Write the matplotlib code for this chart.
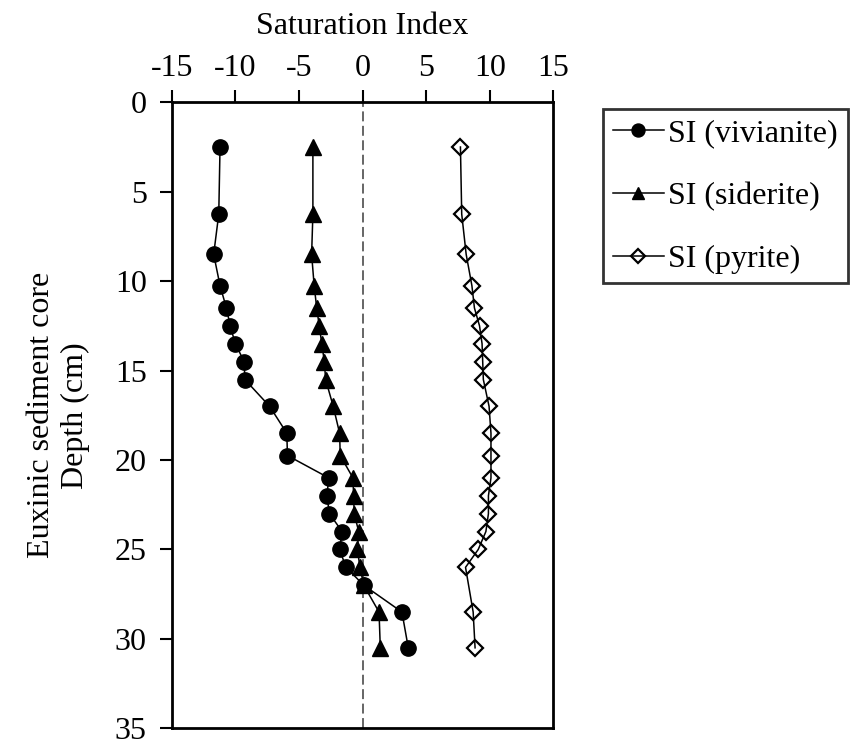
import matplotlib
matplotlib.use("Agg")
import numpy as np
import matplotlib.pyplot as plt

# ----------------------------
# Data
# ----------------------------
depth = [2.5, 6.25, 8.5, 10.25, 11.5, 12.5, 13.5, 14.5, 15.5, 17.0, 18.5,
         19.75, 21.0, 22.0, 23.0, 24.0, 25.0, 26.0, 27.0, 28.5, 30.5]

si_vivianite = [-11.2, -11.3, -11.7, -11.2, -10.7, -10.4, -10.0, -9.3, -9.25,
                -7.3, -5.95, -5.9, -2.65, -2.8, -2.6, -1.6, -1.8, -1.3, 0.1,
                3.1, 3.6]

si_siderite = [-3.9, -3.9, -4.0, -3.8, -3.6, -3.4, -3.2, -3.0, -2.9, -2.3,
               -1.8, -1.75, -0.75, -0.7, -0.65, -0.3, -0.4, -0.2, 0.1, 1.3,
               1.4]

# pyrite has no value at 27 cm
depth_pyrite = [2.5, 6.25, 8.5, 10.25, 11.5, 12.5, 13.5, 14.5, 15.5, 17.0,
                18.5, 19.75, 21.0, 22.0, 23.0, 24.0, 25.0, 26.0, 28.5, 30.5]

si_pyrite = [7.7, 7.8, 8.15, 8.6, 8.8, 9.2, 9.4, 9.45, 9.5, 9.95, 10.1, 10.1,
             10.1, 9.9, 9.9, 9.7, 9.1, 8.1, 8.7, 8.85]

x_ticks = [-15, -10, -5, 0, 5, 10, 15]
y_ticks = [0, 5, 10, 15, 20, 25, 30, 35]

# ----------------------------
# Style
# ----------------------------
plt.rcParams["font.family"] = ["Liberation Serif", "DejaVu Serif"]
plt.rcParams["font.size"] = 23
plt.rcParams["axes.unicode_minus"] = False

fig = plt.figure(figsize=(8.52, 7.47), dpi=100)
ax = fig.add_axes([171.7 / 852, 1 - 728.3 / 747,
                   (553.3 - 171.7) / 852, (728.3 - 102.3) / 747])

# ----------------------------
# Plot
# ----------------------------
ax.axvline(0, color="#595959", linestyle=(0, (5.5, 2.5)), linewidth=1.3,
           zorder=1)

ax.plot(si_vivianite, depth, color="black", linewidth=1.1, marker="o",
        markersize=11, markerfacecolor="black", label="SI (vivianite)", zorder=3)
ax.plot(si_siderite, depth, color="black", linewidth=1.1, marker="^",
        markersize=11, markerfacecolor="black", label="SI (siderite)", zorder=3)
ax.plot(si_pyrite, depth_pyrite, color="black", linewidth=1.1, marker="D",
        markersize=7.8, markerfacecolor="none", markeredgewidth=1.6,
        label="SI (pyrite)", zorder=3)

ax.set_xlim(-15, 15)
ax.set_ylim(35, 0)
ax.set_xticks(x_ticks)
ax.set_yticks(y_ticks)

ax.xaxis.tick_top()
ax.xaxis.set_label_position("top")
ax.set_xlabel("Saturation Index", labelpad=14)
ax.set_ylabel("Euxinic sediment core\nDepth (cm)")
ax.yaxis.set_label_coords(-0.215, 0.5)

for spine in ax.spines.values():
    spine.set_linewidth(2)
ax.tick_params(axis="both", direction="out", length=9, width=1.5)
ax.tick_params(axis="x", pad=5)
ax.tick_params(axis="y", pad=9)

leg = fig.legend(loc="upper left", bbox_to_anchor=(603 / 852, 1 - 109 / 747),
                 borderaxespad=0, frameon=True, fancybox=False,
                 edgecolor="black", handlelength=1.6, handletextpad=0.15,
                 labelspacing=1.05, borderpad=0.3, markerscale=0.85)
leg.get_frame().set_linewidth(2)

fig.savefig("out.png", dpi=100)
plt.close(fig)
